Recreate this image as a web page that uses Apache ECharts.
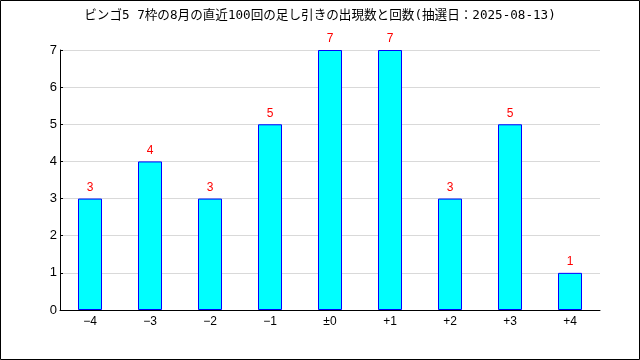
<!DOCTYPE html>
<html><head><meta charset="utf-8">
<script src="https://cdn.jsdelivr.net/npm/echarts@6/dist/echarts.min.js"></script>
<style>html,body{margin:0;padding:0;background:#fff}#c{width:640px;height:360px}</style>
</head><body><div id="c"></div>
<script>
const titleText = 'ビンゴ5 7枠の8月の直近100回の足し引きの出現数と回数(抽選日：2025-08-13)';
const categories = ['−4','−3','−2','−1','±0','+1','+2','+3','+4'];
const counts = [3,4,3,5,7,7,3,5,1];
const yTicks = [0,7,1];
const FONT = '"DejaVu Sans Mono","Noto Sans CJK JP",monospace';
const SANS = '"Liberation Sans","Noto Sans CJK JP",sans-serif';
const chart = echarts.init(document.getElementById('c'));
chart.setOption({
  animation:false,
  backgroundColor:'#fff',
  title:{text:titleText,left:'center',top:4,textStyle:{fontFamily:FONT,fontSize:12.6,fontWeight:'normal',color:'#000'}},
  grid:{left:60,right:40,top:50,bottom:50},
  graphic:[{type:'rect',shape:{x:0.5,y:0.5,width:639,height:359},style:{fill:'none',stroke:'#000',lineWidth:1},silent:true}],
  xAxis:{type:'category',data:categories,
    axisLine:{lineStyle:{color:'#000',width:1}},
    axisTick:{inside:true,length:5,lineStyle:{color:'#000'}},
    axisLabel:{color:'#000',fontFamily:SANS,fontSize:12,margin:6}},
  yAxis:{type:'value',min:yTicks[0],max:yTicks[1],interval:yTicks[2],
    axisLine:{show:true,lineStyle:{color:'#000',width:1}},
    axisTick:{show:true,inside:true,length:3,lineStyle:{color:'#000'}},
    splitLine:{lineStyle:{color:'#d9d9d9'}},
    axisLabel:{color:'#000',fontFamily:SANS,fontSize:13,margin:3}},
  series:[{type:'bar',data:counts,barWidth:24,
    itemStyle:{color:'#00ffff',borderColor:'#0000ff',borderWidth:1},
    label:{show:true,position:'top',distance:5,color:'#ff0000',fontFamily:SANS,fontSize:12}}]
});
</script></body></html>
